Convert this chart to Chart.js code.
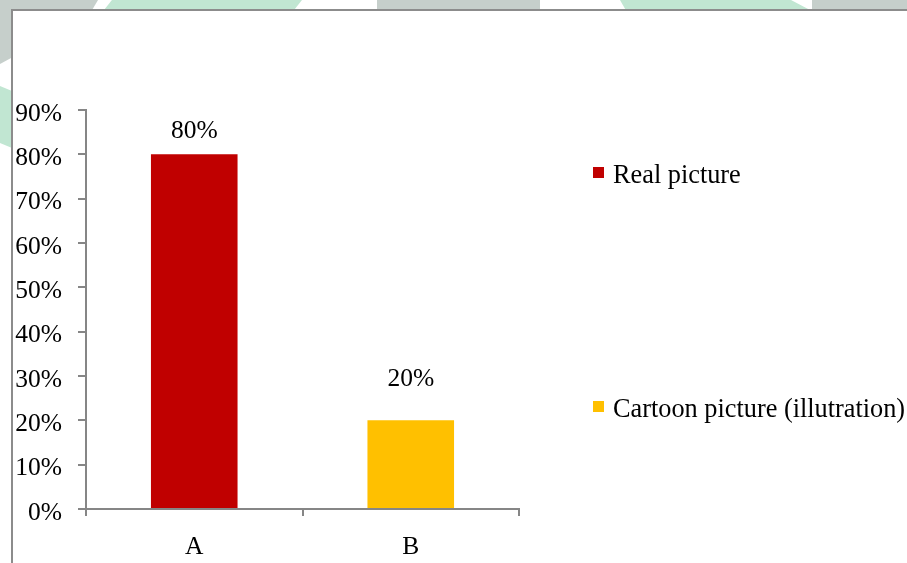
<!DOCTYPE html>
<html>
<head>
<meta charset="utf-8">
<script src="https://cdn.jsdelivr.net/npm/chart.js@4.4.1/dist/chart.umd.min.js"></script>
<style>
  html, body { margin: 0; padding: 0; background: #fff; }
  #wrap { position: relative; width: 907px; height: 563px; overflow: hidden; }
  .deco { position: absolute; }
  .gray { background: #c6cfcb; }
  .mint { background: #c1e6d2; }
  #chart { position: absolute; left: 0; top: 0; }
</style>
</head>
<body>
<div id="wrap">
  <!-- slide decorations behind the chart -->
  <div class="deco gray" style="left:0;top:0;width:98px;height:10px;clip-path:polygon(0 0,100% 0,94% 100%,0 100%)"></div>
  <div class="deco mint" style="left:104px;top:0;width:198px;height:10px;clip-path:polygon(4% 0,100% 0,96% 100%,0 100%)"></div>
  <div class="deco gray" style="left:377px;top:0;width:163px;height:10px"></div>
  <div class="deco mint" style="left:620px;top:0;width:190px;height:10px;clip-path:polygon(0 0,90% 0,100% 100%,3% 100%)"></div>
  <div class="deco gray" style="left:812px;top:0;width:95px;height:10px"></div>
  <div class="deco gray" style="left:0;top:0;width:12px;height:64px;clip-path:polygon(0 0,100% 0,100% 90%,0 100%)"></div>
  <div class="deco mint" style="left:0;top:86px;width:12px;height:62px;clip-path:polygon(0 0,100% 8%,100% 100%,0 92%)"></div>
  <div class="deco" style="left:12px;top:9px;width:895px;height:2px;background:#8c8c8c"></div>
  <div class="deco" style="left:11px;top:9px;width:2px;height:554px;background:#8c8c8c"></div>
  <canvas id="chart" width="907" height="563"></canvas>
</div>
<script>
/* ============================================================
   DATA
============================================================ */
const categories = ["A", "B"];
const values = [80, 20];
const legendNames = ["Real picture", "Cartoon picture (illutration)"];
const barColors = ["#c00000", "#ffc000"];
const yTicks = [0, 10, 20, 30, 40, 50, 60, 70, 80, 90];

/* ============================================================
   STYLE
============================================================ */
const FONT = '"Liberation Serif", "Times New Roman", serif';
const AXIS = "#868686";
const labelGap = [23, 41]; // distance from bar top to label middle

const valueLabels = {
  id: "valueLabels",
  afterDatasetsDraw(chart) {
    const ctx = chart.ctx;
    const meta = chart.getDatasetMeta(0);
    ctx.save();
    ctx.font = `25.5px ${FONT}`;
    ctx.fillStyle = "#000";
    ctx.textAlign = "center";
    ctx.textBaseline = "middle";
    meta.data.forEach((bar, i) => {
      ctx.fillText(`${values[i]}%`, bar.x, bar.y - labelGap[i]);
    });
    ctx.restore();
  },
};

const sideLegend = {
  id: "sideLegend",
  afterDraw(chart) {
    const ctx = chart.ctx;
    const rows = [183, 417]; // text baselines
    ctx.save();
    ctx.font = `26.3px ${FONT}`;
    ctx.textBaseline = "alphabetic";
    ctx.textAlign = "left";
    legendNames.forEach((name, i) => {
      ctx.fillStyle = barColors[i];
      ctx.fillRect(593, rows[i] - 16, 11, 11);
      ctx.fillStyle = "#000";
      ctx.fillText(name, 613, rows[i]);
    });
    ctx.restore();
  },
};

/* ============================================================
   CHART
============================================================ */
new Chart(document.getElementById("chart"), {
  type: "bar",
  data: {
    labels: categories,
    datasets: [
      {
        data: values,
        backgroundColor: barColors,
        borderWidth: 0,
        barPercentage: 0.4,
        categoryPercentage: 1,
      },
    ],
  },
  options: {
    responsive: false,
    animation: false,
    layout: { padding: { top: 110, right: 388, left: 0, bottom: 0 } },
    plugins: {
      legend: { display: false },
      tooltip: { enabled: false },
    },
    scales: {
      y: {
        min: yTicks[0],
        max: yTicks[yTicks.length - 1],
        afterBuildTicks: (s) => {
          s.ticks = yTicks.map((v) => ({ value: v }));
        },
        afterFit: (s) => {
          s.width = 86;
        },
        ticks: {
          callback: (v) => `${v}%`,
          color: "#000",
          font: { family: FONT, size: 25.5 },
          padding: 16,
          labelOffset: 4,
        },
        grid: {
          drawOnChartArea: false,
          tickLength: 8,
          color: AXIS,
          lineWidth: 2,
        },
        border: { display: true, color: AXIS, width: 2 },
      },
      x: {
        afterFit: (s) => {
          s.height = 54;
        },
        ticks: {
          color: "#000",
          font: { family: FONT, size: 25.5 },
          padding: 16,
        },
        grid: {
          offset: true,
          drawOnChartArea: false,
          tickLength: 7,
          color: AXIS,
          lineWidth: 2,
        },
        border: { display: true, color: AXIS, width: 2 },
      },
    },
  },
  plugins: [valueLabels, sideLegend],
});
</script>
</body>
</html>
